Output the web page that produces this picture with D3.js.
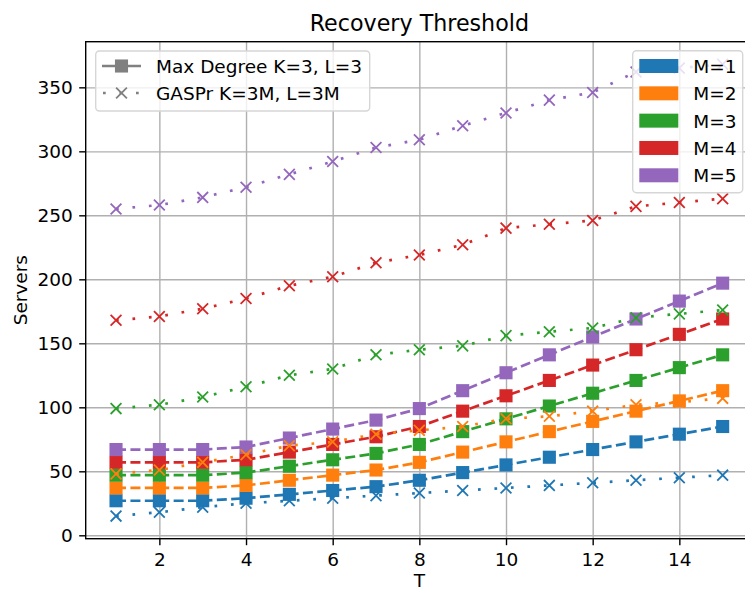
<!DOCTYPE html>
<html>
<head>
<meta charset="utf-8">
<script src="https://cdn.jsdelivr.net/npm/d3@7"></script>
<style>
  body { margin: 0; background: #fff; }
  svg { display: block; font-family: "DejaVu Sans", sans-serif; }
</style>
</head>
<body>
<svg width="745" height="590"></svg>
<script>
const T = [1, 2, 3, 4, 5, 6, 7, 8, 9, 10, 11, 12, 13, 14, 15];
const mLabels = ['M=1', 'M=2', 'M=3', 'M=4', 'M=5'];
const colors = ['#1f77b4', '#ff7f0e', '#2ca02c', '#d62728', '#9467bd'];

// Max Degree K=3, L=3
const maxDeg1 = [27, 27, 27, 29, 32, 35, 38, 43, 49, 55, 61, 67, 73, 79, 85];
const maxDeg2 = [37, 37, 37, 39, 43, 47, 51, 57, 65, 73, 81, 89, 97, 105, 113];
const maxDeg3 = [47, 47, 47, 49, 54, 59, 64, 71, 81, 91, 101, 111, 121, 131, 141];
const maxDeg4 = [57, 57, 57, 59, 65, 71, 77, 85, 97, 109, 121, 133, 145, 157, 169];
const maxDeg5 = [67, 67, 67, 69, 76, 83, 90, 99, 113, 127, 141, 155, 169, 183, 197];

// GASPr K=3M, L=3M
const gaspr1 = [15, 18, 22, 25, 27, 29, 31, 33, 35, 37, 39, 41, 43, 45, 47];
const gaspr2 = [48, 51, 57, 63, 70, 73, 79, 82, 85, 91, 93, 97, 102, 104, 107];
const gaspr3 = [99, 102, 108, 116, 125, 130, 141, 145, 148, 156, 159, 162, 170, 173, 176];
const gaspr4 = [168, 171, 177, 185, 195, 202, 213, 219, 227, 240, 243, 246, 257, 260, 263];
const gaspr5 = [255, 258, 264, 272, 282, 292, 303, 309, 320, 330, 340, 346, 362, 365, 368];

const xTicks = [2, 4, 6, 8, 10, 12, 14];
const yTicks = [0, 50, 100, 150, 200, 250, 300, 350];

const maxDeg = [maxDeg1, maxDeg2, maxDeg3, maxDeg4, maxDeg5];
const gaspr = [gaspr1, gaspr2, gaspr3, gaspr4, gaspr5];

const svg = d3.select('svg');

// axes box (right edge falls outside the picture, like the reference)
const axLeft = 85.7, axRight = 753, axTop = 41.7, axBottom = 538.7;
const fs = 18.5;
const lw = 2.7;

const x = d3.scaleLinear().domain([0.3, 15.7]).range([axLeft, axRight]);
const y = d3.scaleLinear().domain([-2.65, 385.65]).range([axBottom, axTop]);

// grid
svg.append('g')
  .attr('transform', `translate(0,${axBottom})`)
  .call(d3.axisBottom(x).tickValues(xTicks).tickSize(-(axBottom - axTop)).tickFormat(''))
  .call(g => g.select('.domain').remove())
  .selectAll('line').attr('stroke', '#b0b0b0').attr('stroke-width', 1.4);

svg.append('g')
  .attr('transform', `translate(${axLeft},0)`)
  .call(d3.axisLeft(y).tickValues(yTicks).tickSize(-(axRight - axLeft)).tickFormat(''))
  .call(g => g.select('.domain').remove())
  .selectAll('line').attr('stroke', '#b0b0b0').attr('stroke-width', 1.4);

const line = d3.line()
  .x((d, i) => x(T[i]))
  .y(d => y(d));

const sq = 11.4;

// Max Degree: dashed with squares
maxDeg.forEach((vals, k) => {
  svg.append('path')
    .attr('d', line(vals))
    .attr('fill', 'none')
    .attr('stroke', colors[k])
    .attr('stroke-width', lw)
    .attr('stroke-dasharray', '10,4.4');

  svg.append('g').selectAll('rect').data(vals)
    .enter()
    .append('rect')
    .attr('x', (d, i) => x(T[i]) - sq / 2)
    .attr('y', d => y(d) - sq / 2)
    .attr('width', sq)
    .attr('height', sq)
    .attr('fill', colors[k])
    .attr('stroke', colors[k])
    .attr('stroke-width', 1.7);
});

// GASPr: dotted with x markers
const xm = 5.4;
const xPath = (cx, cy) => `M${cx - xm},${cy - xm}L${cx + xm},${cy + xm}M${cx - xm},${cy + xm}L${cx + xm},${cy - xm}`;

gaspr.forEach((vals, k) => {
  svg.append('path')
    .attr('d', line(vals))
    .attr('fill', 'none')
    .attr('stroke', colors[k])
    .attr('stroke-width', lw)
    .attr('stroke-dasharray', '2.7,13.8');

  svg.append('g').selectAll('path').data(vals)
    .enter()
    .append('path')
    .attr('d', (d, i) => xPath(x(T[i]), y(d)))
    .attr('fill', 'none')
    .attr('stroke', colors[k])
    .attr('stroke-width', 1.8);
});

// axes with ticks
const xAxis = svg.append('g')
  .attr('transform', `translate(0,${axBottom})`)
  .call(d3.axisBottom(x).tickValues(xTicks).tickSize(6.5).tickPadding(7.5));
xAxis.select('.domain').remove();
xAxis.selectAll('line').attr('stroke', '#000').attr('stroke-width', 1.4);
xAxis.selectAll('text').attr('font-size', fs).attr('font-family', 'DejaVu Sans').attr('fill', '#000');

const yAxis = svg.append('g')
  .attr('transform', `translate(${axLeft},0)`)
  .call(d3.axisLeft(y).tickValues(yTicks).tickSize(6.5).tickPadding(6.5));
yAxis.select('.domain').remove();
yAxis.selectAll('line').attr('stroke', '#000').attr('stroke-width', 1.4);
yAxis.selectAll('text').attr('font-size', fs).attr('font-family', 'DejaVu Sans').attr('fill', '#000');

// spines
svg.append('rect')
  .attr('x', axLeft).attr('y', axTop)
  .attr('width', axRight - axLeft).attr('height', axBottom - axTop)
  .attr('fill', 'none')
  .attr('stroke', '#000')
  .attr('stroke-width', 1.4);

// title and labels
svg.append('text')
  .text('Recovery Threshold')
  .attr('x', (axLeft + axRight) / 2)
  .attr('y', 31)
  .attr('text-anchor', 'middle')
  .attr('font-size', 22.2);

svg.append('text')
  .text('T')
  .attr('x', (axLeft + axRight) / 2)
  .attr('y', 587)
  .attr('text-anchor', 'middle')
  .attr('font-size', fs);

svg.append('text')
  .text('Servers')
  .attr('transform', `translate(27,${(axTop + axBottom) / 2}) rotate(-90)`)
  .attr('text-anchor', 'middle')
  .attr('font-size', fs);

// legend: line styles
const leg1 = svg.append('g');
leg1.append('rect')
  .attr('x', 95.7).attr('y', 51)
  .attr('width', 274).attr('height', 60)
  .attr('rx', 3.7)
  .attr('fill', 'rgba(255,255,255,0.8)')
  .attr('stroke', '#d6d6d6')
  .attr('stroke-width', 1.4);

leg1.append('line')
  .attr('x1', 102).attr('x2', 141).attr('y1', 66).attr('y2', 66)
  .attr('stroke', 'gray').attr('stroke-width', lw);
leg1.append('rect')
  .attr('x', 121.5 - sq / 2).attr('y', 66 - sq / 2)
  .attr('width', sq).attr('height', sq)
  .attr('fill', 'gray').attr('stroke', 'gray').attr('stroke-width', 1.7);
leg1.append('text')
  .text('Max Degree K=3, L=3')
  .attr('x', 156).attr('y', 73.3)
  .attr('font-size', fs);

leg1.append('line')
  .attr('x1', 103).attr('x2', 141).attr('y1', 93).attr('y2', 93)
  .attr('stroke', 'gray').attr('stroke-width', lw)
  .attr('stroke-dasharray', '2.7,13.8');
leg1.append('path')
  .attr('d', xPath(121.5, 93))
  .attr('stroke', 'gray').attr('stroke-width', 1.8);
leg1.append('text')
  .text('GASPr K=3M, L=3M')
  .attr('x', 156).attr('y', 100)
  .attr('font-size', fs);

// legend: colours
const leg2 = svg.append('g');
leg2.append('rect')
  .attr('x', 632.7).attr('y', 50.7)
  .attr('width', 110).attr('height', 142)
  .attr('rx', 3.7)
  .attr('fill', 'rgba(255,255,255,0.8)')
  .attr('stroke', '#d6d6d6')
  .attr('stroke-width', 1.4);

const rowY = d3.scalePoint().domain(mLabels).range([66, 175.3]);

leg2.selectAll('rect.patch').data(mLabels)
  .enter()
  .append('rect')
  .attr('class', 'patch')
  .attr('x', 639.3)
  .attr('y', d => rowY(d) - 7)
  .attr('width', 39)
  .attr('height', 14)
  .attr('fill', (d, i) => colors[i]);

leg2.selectAll('text').data(mLabels)
  .enter()
  .append('text')
  .text(d => d)
  .attr('x', 693.3)
  .attr('y', d => rowY(d) + 7)
  .attr('font-size', fs);
</script>
</body>
</html>
